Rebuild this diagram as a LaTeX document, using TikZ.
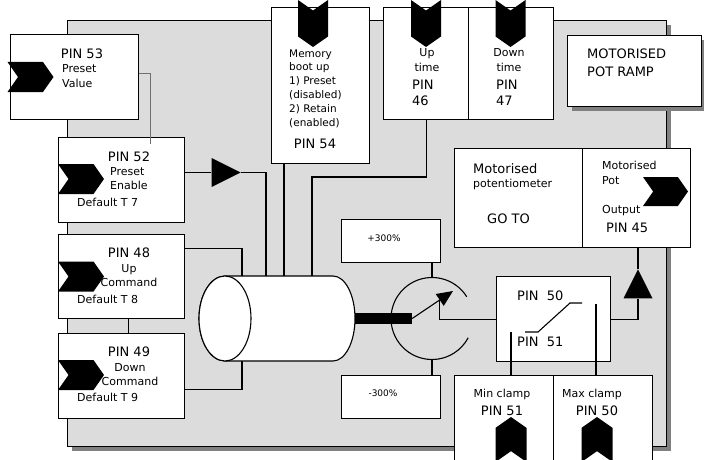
\documentclass[tikz,border=0pt]{standalone}
\usepackage{fontspec}
\setmainfont{DejaVu Sans}
\usepackage{tikz}
\usetikzlibrary{arrows.meta, positioning, shapes.geometric, shapes.symbols, shadows}
\definecolor{panelgray}{HTML}{DCDCDC}
\definecolor{shadegray}{HTML}{808080}
\definecolor{wiregray}{HTML}{707070}
\newcommand{\pinfont}{\fontsize{13}{16}\selectfont}
\newcommand{\notefont}{\fontsize{11}{14}\selectfont}
\newcommand{\smallnote}{\fontsize{9}{11}\selectfont}

\begin{document}
\begin{tikzpicture}[
        x=1pt, y=-1pt,
        panel/.style={
            draw, fill=panelgray, line width=1.3pt,
            anchor=north west, inner sep=0pt,
            drop shadow={shadow xshift=4pt, shadow yshift=-4pt, fill=shadegray, opacity=1}
        },
        box/.style={draw, fill=white, line width=1.2pt, anchor=north west, inner sep=0pt},
        wire/.style={line width=1.1pt},
        thinwire/.style={line width=0.8pt, draw=wiregray},
        chevron/.style={
            signal, signal to=east, signal from=west, fill=black, inner sep=0pt,
            signal pointer angle=110, minimum width=46, minimum height=30
        },
        tri/.style={
            isosceles triangle, isosceles triangle stretches,
            fill=black, inner sep=0pt, minimum width=29, minimum height=29
        },
        pintext/.style={inner sep=0pt, font=\pinfont, align=left},
        notetext/.style={inner sep=0pt, font=\notefont, align=left}
    ]
        \useasboundingbox (0,0) rectangle (704,460);

        % grey frame of the ramp block
        \node[panel, minimum width=599, minimum height=426] (panel) at (67,20) {};

        % boxes
        \node[box, minimum width=128, minimum height=85] (p53) at (10,34) {};
        \node[box, minimum width=126, minimum height=85] (p52) at (58,137) {};
        \node[box, minimum width=126, minimum height=84] (p48) at (58,234) {};
        \node[box, minimum width=126, minimum height=85] (p49) at (58,333) {};
        \node[box, minimum width=98, minimum height=156] (mem) at (271,7) {};
        \node[box, minimum width=85, minimum height=112] (uptime) at (383,7) {};
        \node[box, minimum width=85, minimum height=112] (downtime) at (468,7) {};
        \node[box, minimum width=134, minimum height=71,
            drop shadow={shadow xshift=4pt, shadow yshift=-4pt, fill=shadegray, opacity=1}] (ramp) at (567,35) {};
        \node[box, minimum width=128, minimum height=99] (pot) at (454,148) {};
        \node[box, minimum width=108, minimum height=99] (potout) at (582,148) {};
        \node[box, minimum width=99, minimum height=43] (plus) at (341,219) {};
        \node[box, minimum width=99, minimum height=43] (minus) at (341,375) {};
        \node[box, minimum width=114, minimum height=85] (sw) at (496,276) {};
        \node[box, minimum width=99, minimum height=86] (minc) at (454,375) {};
        \node[box, minimum width=99, minimum height=86] (maxc) at (553,375) {};

        % texts (base anchor = last line)
        \node[pintext, anchor=base] (t53) at (82,59) {PIN 53};
        \node[notetext, anchor=base west] (t53b) at (62,87) {Preset\\Value};
        \node[pintext, anchor=base] (t52) at (129,161) {PIN 52};
        \node[notetext, anchor=base west] (t52b) at (110,189) {Preset\\Enable};
        \node[notetext, anchor=base west] (t52c) at (77,206) {Default T 7};
        \node[pintext, anchor=base] (t48) at (129,257) {PIN 48};
        \node[notetext, anchor=base, align=center] (t48b) at (129,286) {Up\\Command};
        \node[notetext, anchor=base west] (t48c) at (77,303) {Default T 8};
        \node[pintext, anchor=base] (t49) at (129,356) {PIN 49};
        \node[notetext, anchor=base, align=center] (t49b) at (130,385) {Down\\Command};
        \node[notetext, anchor=base west] (t49c) at (77,401) {Default T 9};
        \node[notetext, anchor=base west, font=\fontsize{10.5}{13.8}\selectfont] (tmem) at (289,126)
            {Memory\\boot up\\1) Preset\\(disabled)\\2) Retain\\(enabled)};
        \node[pintext, anchor=base] (t54) at (315,148) {PIN 54};
        \node[notetext, anchor=base, align=center] (tup) at (427,71) {Up\\time};
        \node[pintext, anchor=base west] (t46) at (412,105) {PIN\\46};
        \node[notetext, anchor=base, align=center] (tdown) at (509,71) {Down\\time};
        \node[pintext, anchor=base west] (t47) at (496,105) {PIN\\47};
        \node[pintext, anchor=base west, font=\fontsize{13}{18}\selectfont] (tramp) at (587,77) {MOTORISED\\POT RAMP};
        \node[pintext, anchor=base west] (tpot) at (473,173) {Motorised};
        \node[notetext, anchor=base west] (tpotb) at (473,187) {potentiometer};
        \node[pintext, anchor=base west] (tgoto) at (487,223) {GO TO};
        \node[notetext, anchor=base west, font=\fontsize{11}{15}\selectfont] (tout) at (602,184) {Motorised\\Pot};
        \node[notetext, anchor=base west] (toutb) at (602,213) {Output};
        \node[pintext, anchor=base west] (t45) at (606,232) {PIN 45};
        \node[inner sep=0pt, font=\smallnote, anchor=base] (tplus) at (384,241) {+300\%};
        \node[inner sep=0pt, font=\smallnote, anchor=base] (tminus) at (383,396) {-300\%};
        \node[pintext, anchor=base west] (tsw50) at (517,300) {PIN\ \ 50};
        \node[pintext, anchor=base west] (tsw51) at (517,346) {PIN\ \ 51};
        \node[notetext, anchor=base] (tmin) at (502,397) {Min clamp};
        \node[pintext, anchor=base] (t51) at (502,415) {PIN 51};
        \node[notetext, anchor=base] (tmax) at (592,397) {Max clamp};
        \node[pintext, anchor=base] (t50) at (597,415) {PIN 50};

        % cylinder, shaft and gauge
        \coordinate (cylA) at (242,276);
        \coordinate (cylB) at (266,276);
        \coordinate (cylC) at (284,276);
        \coordinate (cylE) at (312,276);
        \coordinate (cylD) at (242,361);
        \node[circle, minimum size=82, inner sep=0pt] (gauge) at (432,318.5) {};
        \node[tri] (tri52) at (220.5,172.5) {};
        \node[tri, shape border rotate=90] (triout) at (638,289.5) {};

        % connectors
        \draw[thinwire] ([yshift=3.5pt]p53.east) -| (150,144);
        \draw[wire] (p52.east |- tri52.west) -- (tri52.west);
        \draw[wire] (tri52.east) -| (cylB);
        \draw[wire] ([yshift=28pt]p48.east) -| (cylA);
        \draw[wire] ([yshift=-13.5pt]p49.east) -| (cylD);
        \draw[wire] ([xshift=7pt]p48.south) -- ([xshift=7pt]p49.north);
        \draw[wire] (mem.south -| cylC) -- (cylC);
        \draw[wire] (uptime.south) |- (312,177) -- (cylE);
        \draw[wire] (plus.south -| gauge.north) -- (gauge.north);
        \draw[wire] (gauge.south) -- (gauge.south |- minus.north);
        \draw[wire] (sw.east) -| (triout.south);
        \draw[wire] (triout.north) -- (triout.north |- potout.south);

        \draw[wire, fill=white] (225,276) -- (333,276)
            arc[start angle=90, end angle=-90, x radius=22pt, y radius=42.5pt]
            -- (225,361)
            arc[start angle=270, end angle=90, x radius=26pt, y radius=42.5pt] -- cycle;
        \draw[wire, fill=white] (225,318.5) ellipse[x radius=26pt, y radius=42.5pt];
        \node[fill=black, inner sep=0pt, minimum width=57, minimum height=11] (shaft) at (383.5,318.5) {};

        \draw[wire] ([shift={(32:41pt)}]gauge.center) arc[start angle=32, end angle=332, radius=41pt];
        \coordinate (needletip) at (453,291);
        \coordinate (wiper) at (439.5,300);
        \draw[wire, -{Triangle[length=16pt, width=14pt]}] (shaft.east) -- (needletip);
        \draw[wire] (wiper) |- (sw.west);

        % switch
        \coordinate (swlo) at (511,332);
        \coordinate (swhi) at (596,304);
        \draw[wire] (525,332) -- (538,332) -- (570,303) -- (582,303);
        \draw[wire] (swlo) -- (swlo |- minc.north);
        \draw[wire] (swhi) -- (swhi |- maxc.north);

        % chevrons
        \node[chevron] (c53) at (30.5,77) {};
        \node[chevron] (c52) at (81,179) {};
        \node[chevron] (c48) at (81,276.5) {};
        \node[chevron] (c49) at (81,375) {};
        \node[chevron, minimum width=45, minimum height=29] (c45) at (665.5,191.5) {};
        \node[chevron, rotate=-90, minimum width=47] (c54) at (313,23.5) {};
        \node[chevron, rotate=-90, minimum width=47] (c46) at (426,23.5) {};
        \node[chevron, rotate=-90, minimum width=47] (c47) at (510.5,23.5) {};
        \node[chevron, rotate=90, minimum width=45, minimum height=31] (cmin) at (511,439.5) {};
        \node[chevron, rotate=90, minimum width=45, minimum height=31] (cmax) at (597,439.5) {};
    \end{tikzpicture}
\end{document}
